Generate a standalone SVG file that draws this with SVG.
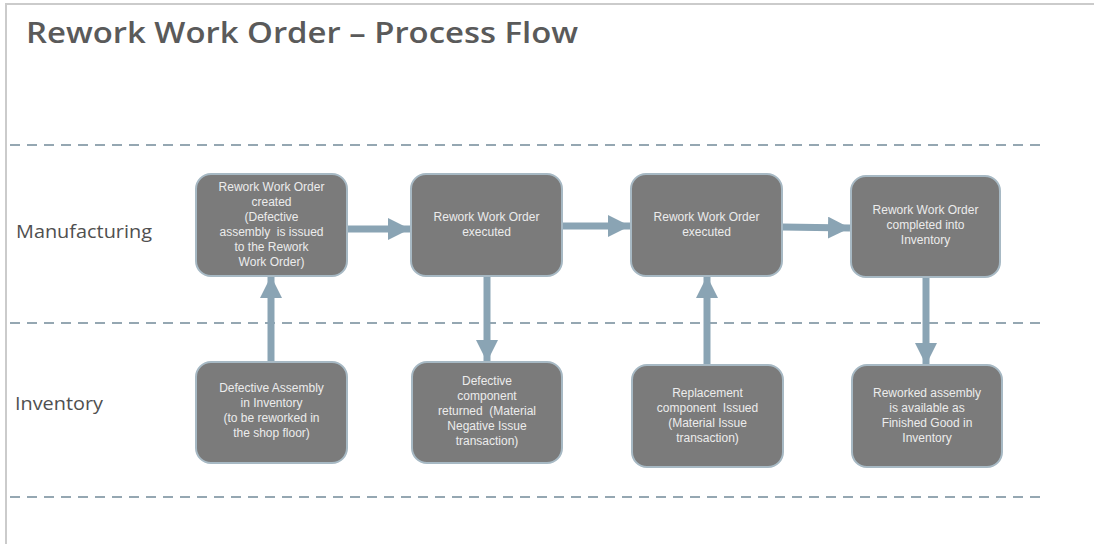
<svg xmlns="http://www.w3.org/2000/svg" width="1094" height="544" viewBox="0 0 1094 544">
<defs>
<style>
.frame{fill:none;stroke:#cbcbcb;stroke-width:2}
.lane{stroke:#95a7b2;stroke-width:2;stroke-dasharray:10 7;fill:none}
.title{font-family:"Open Sans","Liberation Sans",sans-serif;font-weight:600;font-size:28px;fill:#5a5a5a}
.lanelbl{font-family:"Open Sans","Liberation Sans",sans-serif;font-size:18px;fill:#505050}
.box{fill:#7b7b7b;stroke:#a7b9c4;stroke-width:2}
.bt{font-family:"Liberation Sans",Arial,sans-serif;font-size:12px;fill:#ececec;text-anchor:middle;white-space:pre}
.arr{stroke:#8aa4b4;stroke-width:7;fill:none}
</style>
<marker id="ah" markerUnits="userSpaceOnUse" markerWidth="22" markerHeight="22" refX="22" refY="11" orient="auto" viewBox="0 0 22 22">
<path d="M0,0 L22,11 L0,22 Z" fill="#8aa4b4"/>
</marker>
</defs>
<rect width="1094" height="544" fill="#ffffff"/>
<path class="frame" d="M6,544 L6,4 L1094,4"/>
<text class="title" x="26" y="43" textLength="552" lengthAdjust="spacingAndGlyphs">Rework Work Order – Process Flow</text>
<g id="lanes">
<line class="lane" x1="10" y1="145" x2="1040" y2="145"/>
<line class="lane" x1="10" y1="323" x2="1040" y2="323"/>
<line class="lane" x1="10" y1="497" x2="1040" y2="497"/>
<text class="lanelbl" x="16" y="238" textLength="136" lengthAdjust="spacingAndGlyphs">Manufacturing</text>
<text class="lanelbl" x="15" y="410" textLength="88" lengthAdjust="spacingAndGlyphs">Inventory</text>
</g>
<g id="connectors">
<line class="arr" x1="347" y1="229" x2="410" y2="229" marker-end="url(#ah)"/>
<line class="arr" x1="563" y1="226" x2="630" y2="226" marker-end="url(#ah)"/>
<line class="arr" x1="782" y1="227" x2="850" y2="228" marker-end="url(#ah)"/>
<line class="arr" x1="271" y1="362" x2="271" y2="276" marker-end="url(#ah)"/>
<line class="arr" x1="487" y1="276" x2="487" y2="362" marker-end="url(#ah)"/>
<line class="arr" x1="707" y1="365" x2="707" y2="276" marker-end="url(#ah)"/>
<line class="arr" x1="926" y1="277" x2="926" y2="365" marker-end="url(#ah)"/>
</g>
<g id="n1">
<rect class="box" x="196" y="174" width="151" height="102" rx="15"/>
<text class="bt"><tspan x="271.5" y="191">Rework Work Order</tspan><tspan x="271.5" y="206">created</tspan><tspan x="271.5" y="221">(Defective</tspan><tspan x="271.5" y="236">assembly  is issued</tspan><tspan x="271.5" y="251">to the Rework</tspan><tspan x="271.5" y="266">Work Order)</tspan></text>
</g>
<g id="n2">
<rect class="box" x="411" y="174" width="151" height="102" rx="15"/>
<text class="bt"><tspan x="486.5" y="221">Rework Work Order</tspan><tspan x="486.5" y="236">executed</tspan></text>
</g>
<g id="n3">
<rect class="box" x="631" y="174" width="151" height="102" rx="15"/>
<text class="bt"><tspan x="706.5" y="221">Rework Work Order</tspan><tspan x="706.5" y="236">executed</tspan></text>
</g>
<g id="n4">
<rect class="box" x="851" y="176" width="149" height="101" rx="15"/>
<text class="bt"><tspan x="925.5" y="214">Rework Work Order</tspan><tspan x="925.5" y="229">completed into</tspan><tspan x="925.5" y="244">Inventory</tspan></text>
</g>
<g id="n5">
<rect class="box" x="196" y="362" width="151" height="101" rx="15"/>
<text class="bt"><tspan x="271.5" y="392">Defective Assembly</tspan><tspan x="271.5" y="407">in Inventory</tspan><tspan x="271.5" y="422">(to be reworked in</tspan><tspan x="271.5" y="437">the shop floor)</tspan></text>
</g>
<g id="n6">
<rect class="box" x="412" y="362" width="150" height="101" rx="15"/>
<text class="bt"><tspan x="487" y="385">Defective</tspan><tspan x="487" y="400">component</tspan><tspan x="487" y="415">returned  (Material</tspan><tspan x="487" y="430">Negative Issue</tspan><tspan x="487" y="445">transaction)</tspan></text>
</g>
<g id="n7">
<rect class="box" x="632" y="365" width="151" height="102" rx="15"/>
<text class="bt"><tspan x="707.5" y="397">Replacement</tspan><tspan x="707.5" y="412">component  Issued</tspan><tspan x="707.5" y="427">(Material Issue</tspan><tspan x="707.5" y="442">transaction)</tspan></text>
</g>
<g id="n8">
<rect class="box" x="852" y="365" width="150" height="102" rx="15"/>
<text class="bt"><tspan x="927" y="397">Reworked assembly</tspan><tspan x="927" y="412">is available as</tspan><tspan x="927" y="427">Finished Good in</tspan><tspan x="927" y="442">Inventory</tspan></text>
</g>
</svg>
